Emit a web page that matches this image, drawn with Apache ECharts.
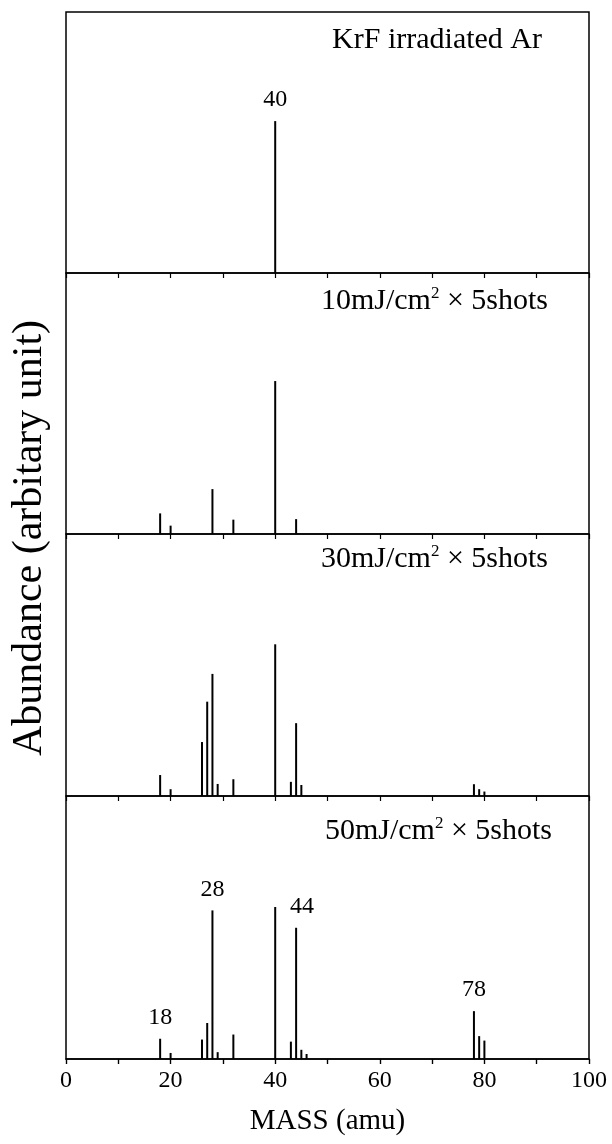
<!DOCTYPE html>
<html>
<head>
<meta charset="utf-8">
<script src="https://cdn.jsdelivr.net/npm/echarts@6/dist/echarts.min.js"></script>
<style>html,body{margin:0;padding:0;background:#fff}#c{width:612px;height:1144px}</style>
</head>
<body>
<div id="c"></div>
<script>
// Data (heights in % of panel height)
var xTicks = [0, 20, 40, 60, 80, 100];
var panelTitles = ['KrF irradiated Ar', '10mJ/cm{sup|2} × 5shots', '30mJ/cm{sup|2} × 5shots', '50mJ/cm{sup|2} × 5shots'];
var masses1 = [40];
var heights1 = [58.2];
var masses2 = [18, 20, 28, 32, 40, 44];
var heights2 = [7.9, 3.2, 17.2, 5.5, 58.6, 5.7];
var masses3 = [18, 20, 26, 27, 28, 29, 32, 40, 43, 44, 45, 78, 79, 80];
var heights3 = [8.0, 2.6, 20.6, 36.0, 46.6, 4.6, 6.4, 57.9, 5.4, 27.8, 4.2, 4.5, 2.6, 1.7];
var masses4 = [18, 20, 26, 27, 28, 29, 32, 40, 43, 44, 45, 46, 78, 79, 80];
var heights4 = [7.7, 2.3, 7.4, 13.7, 56.5, 2.6, 9.3, 57.8, 6.6, 49.9, 3.5, 1.9, 18.2, 8.7, 7.0];
var labeled1 = [40];
var labeled4 = [18, 28, 44, 78];

var FONT = '"Liberation Serif", "Times New Roman", serif';
var chart = echarts.init(document.getElementById('c'), null, {renderer: 'canvas'});

var grids = [
  {left: 66, width: 523, top: 12, height: 261},
  {left: 66, width: 523, top: 273, height: 261},
  {left: 66, width: 523, top: 534, height: 262},
  {left: 66, width: 523, top: 796, height: 263}
];
grids.forEach(function (g) { g.show = true; g.borderColor = '#000'; g.borderWidth = 1.5; g.backgroundColor = 'transparent'; });

var xAxes = [], yAxes = [];
for (var i = 0; i < 4; i++) {
  xAxes.push({
    type: 'value', gridIndex: i, position: 'top', min: 0, max: 100, interval: 10,
    axisLine: {show: false}, axisLabel: {show: false}, splitLine: {show: false},
    axisTick: {show: true, inside: true, length: 5, lineStyle: {color: '#000', width: 1.2}}
  });
  yAxes.push({type: 'value', gridIndex: i, min: 0, max: 100, show: false});
}
// bottom axis with labels for the lowest panel
xAxes.push({
  type: 'value', gridIndex: 3, position: 'bottom', min: 0, max: 100, interval: 10,
  axisLine: {show: true, lineStyle: {color: '#000', width: 1.5}},
  axisTick: {show: true, inside: false, length: 5, lineStyle: {color: '#000', width: 1.2}},
  splitLine: {show: false},
  axisLabel: {
    show: true, margin: 10, color: '#000', fontFamily: FONT, fontSize: 24,
    formatter: function (v) { return xTicks.indexOf(v) >= 0 ? String(v) : ''; }
  },
  name: 'MASS (amu)', nameLocation: 'middle', nameGap: 48,
  nameTextStyle: {color: '#000', fontFamily: FONT, fontSize: 29}
});

function mk(masses, heights, labeled) {
  return masses.map(function (m, k) {
    var d = {value: [m, heights[k]]};
    if (labeled && labeled.indexOf(m) >= 0) {
      d.label = {show: true};
      if (m === 44) d.label.offset = [6, 0];
    }
    return d;
  });
}
var sets = [[masses1, heights1, labeled1], [masses2, heights2, null], [masses3, heights3, null], [masses4, heights4, labeled4]];
var series = sets.map(function (s, i) {
  return {
    type: 'bar', xAxisIndex: i, yAxisIndex: i, barWidth: 2,
    itemStyle: {color: '#000'}, silent: true, animation: false,
    label: {show: false, position: 'top', distance: 9, color: '#000', fontFamily: FONT, fontSize: 24,
      formatter: function (p) { return String(p.value[0]); }},
    data: mk(s[0], s[1], s[2])
  };
});

var titleTops = [24, 285, 543, 815];
var titleRights = [70, 64, 64, 60];
var titles = panelTitles.map(function (t, i) {
  return {
    text: t, right: titleRights[i], top: titleTops[i], padding: 0,
    textStyle: {color: '#000', fontFamily: FONT, fontSize: 30, fontWeight: 'normal', lineHeight: 32,
      rich: {sup: {fontFamily: FONT, fontSize: 17, color: '#000', verticalAlign: 'top', lineHeight: 32, padding: [0, 0, 12, 0]}}}
  };
});

chart.setOption({
  animation: false,
  backgroundColor: '#fff',
  title: titles,
  grid: grids,
  xAxis: xAxes,
  yAxis: yAxes,
  series: series,
  graphic: [{
    type: 'text', x: 30, y: 538, rotation: Math.PI / 2,
    style: {text: 'Abundance (arbitary unit)', fill: '#000', font: '42px ' + FONT, textAlign: 'center', textVerticalAlign: 'middle'}
  }]
});
</script>
</body>
</html>
